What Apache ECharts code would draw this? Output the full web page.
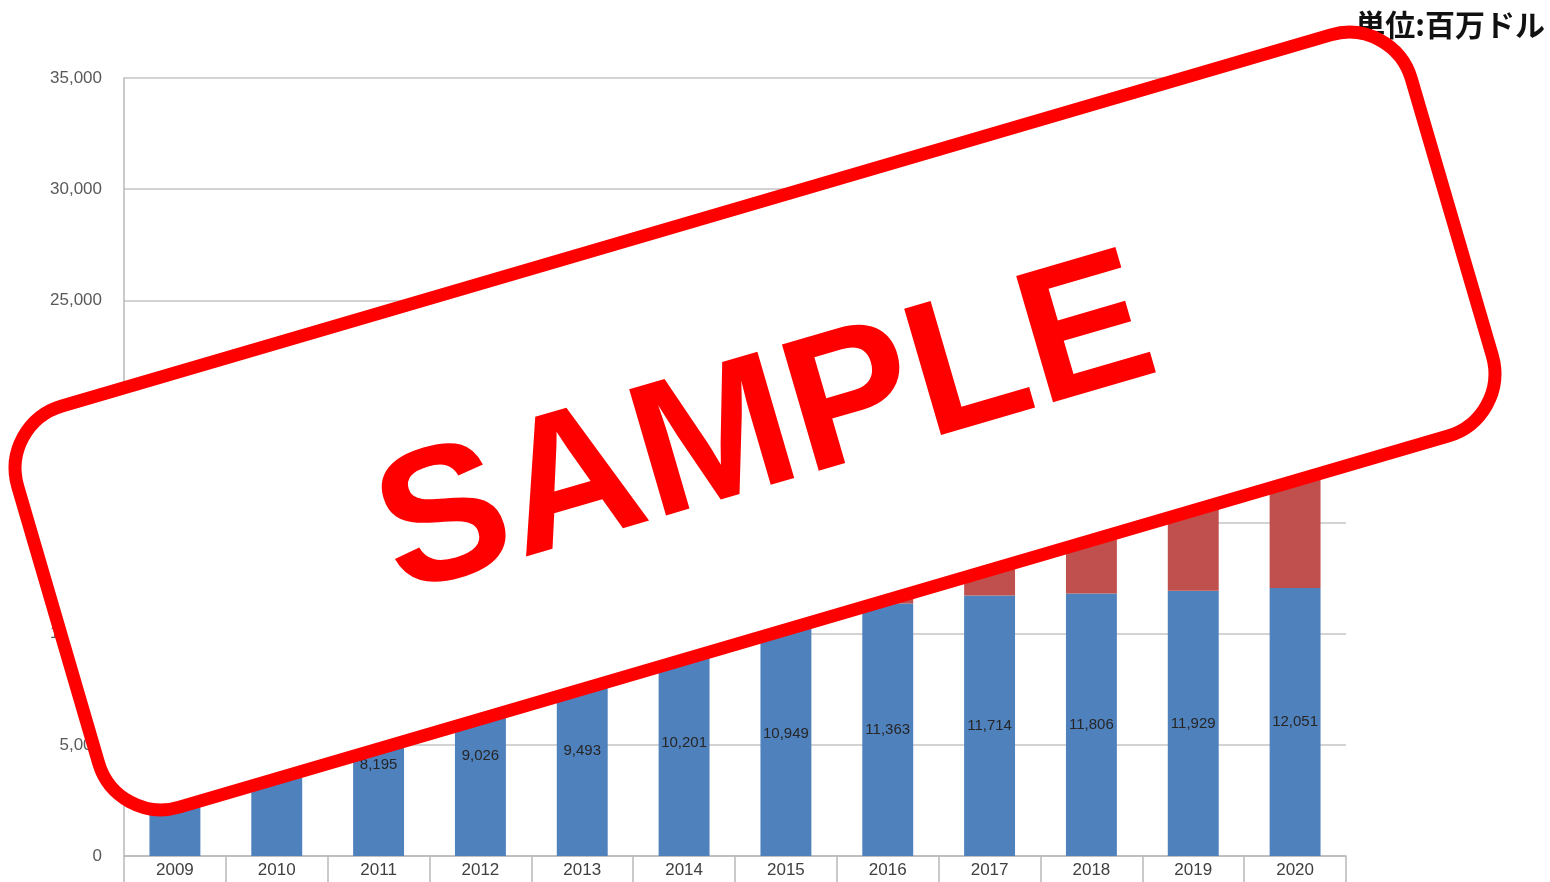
<!DOCTYPE html>
<html>
<head>
<meta charset="utf-8">
<script src="https://cdn.jsdelivr.net/npm/echarts@6/dist/echarts.min.js"></script>
<style>
  html, body { margin: 0; padding: 0; background: #fff; }
  #container { width: 1550px; height: 882px; }
</style>
</head>
<body>
<div id="container"></div>
<script>
// 年
const years = ['2009', '2010', '2011', '2012', '2013', '2014', '2015', '2016', '2017', '2018', '2019', '2020'];
// 青（下段） – 2009/2010 はスタンプで隠れているので推定
const blueValues = [6700, 7400, 8195, 9026, 9493, 10201, 10949, 11363, 11714, 11806, 11929, 12051];
// 赤（上段） – 大部分がスタンプで隠れているので推定
const redValues = [0, 0, 0, 0, 0, 0, 500, 1500, 3000, 5500, 9500, 15000];
// 目盛り
const yMax = 35000;
const yStep = 5000;

const fmt = v => v.toLocaleString('en-US');

let option = {
  animation: false,
  grid: { left: 124, right: 204, top: 78, bottom: 26, containLabel: false },
  xAxis: {
    type: 'category',
    data: years,
    axisLine: { show: true, lineStyle: { color: '#b9b9b9', width: 1.5 } },
    axisTick: { show: true, length: 30, lineStyle: { color: '#b9b9b9', width: 1.5 } },
    axisLabel: { color: '#404040', fontSize: 17, fontFamily: 'Liberation Sans', margin: 6 }
  },
  yAxis: {
    type: 'value',
    min: 0,
    max: yMax,
    interval: yStep,
    axisLine: { show: true, lineStyle: { color: '#b9b9b9', width: 1.5 } },
    axisTick: { show: false },
    axisLabel: { color: '#595959', fontSize: 17, fontFamily: 'Liberation Sans', margin: 22, formatter: fmt },
    splitLine: { lineStyle: { color: '#c4c4c4', width: 1.5 } }
  },
  series: [
    {
      name: 'blue',
      type: 'bar',
      stack: 'total',
      barWidth: '50%',
      data: blueValues,
      itemStyle: { color: '#4f81bd' },
      label: {
        show: true,
        position: 'inside',
        color: '#262626',
        fontSize: 15,
        fontFamily: 'Liberation Sans',
        formatter: p => fmt(p.value)
      }
    },
    {
      name: 'red',
      type: 'bar',
      stack: 'total',
      barWidth: '50%',
      data: redValues,
      itemStyle: { color: '#c0504d' }
    }
  ],
  graphic: [
    {
      type: 'text',
      right: 5,
      top: 10,
      z: 50,
      style: {
        text: '単位:百万ドル',
        fill: '#111',
        font: 'bold 30px "Noto Sans CJK JP"'
      }
    },
    // SAMPLE スタンプ
    {
      type: 'group',
      x: 755,
      y: 421,
      rotation: 16.3 * Math.PI / 180,
      z: 100,
      children: [
        {
          type: 'rect',
          shape: { x: -726, y: -209, width: 1452, height: 418, r: 65 },
          style: { fill: '#fff', stroke: '#ff0000', lineWidth: 13 },
          z: 100
        },
        {
          type: 'text',
          x: 8,
          y: 13,
          z: 101,
          style: {
            text: 'SAMPLE',
            fill: '#ff0000',
            font: 'bold 191px "Liberation Sans"',
            align: 'center',
            verticalAlign: 'middle'
          }
        }
      ]
    }
  ]
};

let myChart = echarts.init(document.getElementById('container'));
myChart.setOption(option);
</script>
</body>
</html>
